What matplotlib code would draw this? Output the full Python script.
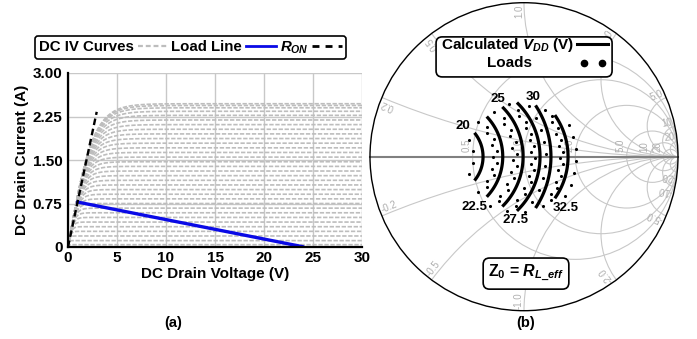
import numpy as np
import matplotlib
matplotlib.use("Agg")
import matplotlib.pyplot as plt
from matplotlib.patches import Circle, FancyBboxPatch
from matplotlib.lines import Line2D

plt.rcParams['font.family'] = ['Liberation Sans', 'DejaVu Sans']
plt.rcParams['font.weight'] = 'bold'
plt.rcParams['mathtext.fontset'] = 'custom'
plt.rcParams['mathtext.rm'] = 'Liberation Sans:bold'
plt.rcParams['mathtext.it'] = 'Liberation Sans:italic:bold'
plt.rcParams['mathtext.bf'] = 'Liberation Sans:bold'

# ---------------- (a) DC IV characteristics ----------------
sat_currents = [0.04, 0.11, 0.19, 0.27, 0.35, 0.43, 0.51, 0.59, 0.67, 0.75,
                0.83, 0.91, 0.99, 1.07, 1.15, 1.23, 1.31, 1.39, 1.47, 1.55,
                1.63, 1.71, 1.79, 1.87, 1.95, 2.03, 2.11, 2.19, 2.27, 2.34,
                2.40, 2.44, 2.47]
on_conductance = 0.95          # A/V, linear-region slope of the device model
load_line_v = [0.82, 24.1]
load_line_i = [0.78, 0.0]
ron_v = [0.0, 2.93]
ron_i = [0.0, 2.33]
x_ticks = [0, 5, 10, 15, 20, 25, 30]
y_ticks = [0, 0.75, 1.5, 2.25, 3.0]
y_ticklabels = ['0', '0.75', '1.50', '2.25', '3.00']

# ---------------- (b) Smith chart data ----------------
resistance_circles = [0.5, 1.0, 2.0, 5.0, 10.0, 20.0]
resistance_labels = ['0.5', '1.0', '2.0', '5.0', '10', '20']
reactance_arcs = [0.2, 0.5, 1.0, 2.0, 5.0, 10.0, 20.0]
reactance_labels = ['0.2', '0.5', '1.0', '2.0', '5.0', '10', '20']

vdd_levels = [20, 22.5, 25, 27.5, 30, 32.5]
vdd_arc_center = [-0.510, -0.516, -0.461, -0.383, -0.429, -0.182]
vdd_arc_radius = [0.244, 0.378, 0.455, 0.487, 0.604, 0.468]
vdd_arc_halfspan = [37, 42, 44, 45, 32.5, 34]
vdd_label_re = [-0.396, -0.325, -0.169, -0.058, 0.058, 0.273]
vdd_label_im = [0.199, -0.327, 0.375, -0.411, 0.388, -0.333]

load_re = [-0.357, -0.334, -0.334, -0.358,
           -0.299, -0.243, -0.211, -0.201, -0.211, -0.243, -0.299,
           -0.241, -0.197, -0.176, -0.176, -0.197, -0.241,
           -0.192, -0.131, -0.094, -0.075, -0.071, -0.084, -0.110, -0.158, -0.221,
           -0.132, -0.083, -0.055, -0.043, -0.048, -0.067, -0.104, -0.160,
           -0.099, -0.032, 0.010, 0.036, 0.047, 0.045, 0.032, 0.003, -0.045, -0.110,
           -0.041, 0.014, 0.048, 0.067, 0.071, 0.064, 0.043, 0.004, -0.053,
           0.030, 0.078, 0.110, 0.130, 0.140, 0.136, 0.122, 0.095, 0.054, 0.006,
           0.136, 0.181, 0.210, 0.226, 0.231, 0.223, 0.205, 0.173, 0.123,
           0.184, 0.221, 0.243, 0.254, 0.252, 0.239, 0.214, 0.173,
           0.292, 0.321, 0.335, 0.337, 0.326, 0.302, 0.266]
load_im = [0.108, 0.037, -0.041, -0.112,
           0.225, 0.154, 0.076, -0.002, -0.080, -0.158, -0.229,
           0.190, 0.115, 0.037, -0.041, -0.119, -0.194,
           0.290, 0.212, 0.134, 0.056, -0.021, -0.099, -0.177, -0.255, -0.320,
           0.251, 0.173, 0.095, 0.018, -0.060, -0.138, -0.216, -0.288,
           0.342, 0.264, 0.186, 0.108, 0.031, -0.047, -0.125, -0.203, -0.281, -0.353,
           0.303, 0.225, 0.147, 0.070, -0.008, -0.086, -0.164, -0.242, -0.317,
           0.329, 0.251, 0.173, 0.095, 0.018, -0.060, -0.138, -0.216, -0.294, -0.359,
           0.303, 0.225, 0.147, 0.069, -0.008, -0.086, -0.164, -0.242, -0.320,
           0.264, 0.186, 0.108, 0.031, -0.047, -0.125, -0.203, -0.281,
           0.206, 0.128, 0.050, -0.028, -0.106, -0.184, -0.255]

curve_gray = '#bdbdbd'
grid_gray = '#c8c8c8'
label_gray = '#b0b0b0'

fig = plt.figure(figsize=(6.97, 3.39), dpi=100)

# ================= (a) =================
ax1 = fig.add_axes([68 / 697, 1 - 247 / 339, 294 / 697, 174 / 339])
v = np.linspace(0, 30, 600)
for isat in sat_currents:
    ax1.plot(v, isat * np.tanh(on_conductance * v / isat), color=curve_gray,
             lw=1.2, dashes=(2.6, 1.0), zorder=2)
ax1.plot(load_line_v, load_line_i, color='#0a0ae6', lw=2.4, zorder=4,
         solid_capstyle='butt')
ax1.plot(ron_v, ron_i, color='black', lw=1.7, dashes=(2.8, 1.6), zorder=5)

ax1.set_xlim(0, 30)
ax1.set_ylim(0, 3)
ax1.set_xticks(x_ticks)
ax1.set_yticks(y_ticks)
ax1.set_yticklabels(y_ticklabels)
ax1.tick_params(length=0, labelsize=11)
ax1.tick_params(axis='y', pad=4)
ax1.tick_params(axis='x', pad=3)
ax1.grid(True, color=grid_gray, lw=1.0, zorder=0)
ax1.set_axisbelow(True)
for s in ['top', 'right']:
    ax1.spines[s].set_visible(False)
for s in ['left', 'bottom']:
    ax1.spines[s].set_linewidth(1.6)
    ax1.spines[s].set_zorder(6)
ax1.set_xlabel('DC Drain Voltage (V)', fontsize=11, fontweight='bold', labelpad=1)
ax1.set_ylabel('DC Drain Current (A)', fontsize=11, fontweight='bold', labelpad=3)

handles = [Line2D([], [], color=curve_gray, lw=1.6, dashes=(2.2, 1.3)),
           Line2D([], [], color='#0a0ae6', lw=2.0),
           Line2D([], [], color='black', lw=2.0, dashes=(2.5, 2.2))]
labels = ['DC IV Curves', 'Load Line', r'$R_{ON}$']
leg = ax1.legend(handles, labels, ncol=3, markerfirst=False, loc='center',
                 bbox_to_anchor=(190.5 / 697, 1 - 47.5 / 339),
                 bbox_transform=fig.transFigure, fancybox=True, framealpha=1,
                 edgecolor='black', handlelength=2.0, handletextpad=0.25,
                 columnspacing=0.25, borderpad=0.25, borderaxespad=0,
                 prop={'weight': 'bold', 'size': 10.8})
leg.get_frame().set_linewidth(1.2)

fig.text(173 / 697, 1 - 323 / 339, '(a)', ha='center', va='center',
         fontsize=10.5, fontweight='bold')

# ================= (b) =================
R_PX = 154.0
ax2 = fig.add_axes([(524 - 157) / 697, 1 - (156.7 + 157) / 339, 314 / 697, 314 / 339])
ax2.set_xlim(-157 / R_PX, 157 / R_PX)
ax2.set_ylim(-157 / R_PX, 157 / R_PX)
ax2.set_aspect('equal')
ax2.axis('off')

clip = Circle((0, 0), 1, transform=ax2.transData)

for r, lab in zip(resistance_circles, resistance_labels):
    c = Circle((r / (1 + r), 0), 1 / (1 + r), fill=False, ec=grid_gray, lw=0.8, zorder=1)
    ax2.add_patch(c)
    c.set_clip_path(clip)
    x0 = (r - 1) / (r + 1)
    ax2.text(x0 - 0.005, 0.03, lab, rotation=90, rotation_mode='anchor',
             ha='left', va='bottom', fontsize=7, fontweight='normal',
             color=label_gray, zorder=2)

for xv, lab in zip(reactance_arcs, reactance_labels):
    for sgn in (1, -1):
        c = Circle((1, sgn / xv), 1 / xv, fill=False, ec=grid_gray, lw=0.8, zorder=1)
        ax2.add_patch(c)
        c.set_clip_path(clip)
    phi = 180 - 2 * np.degrees(np.arctan(xv))
    px, py = np.cos(np.radians(phi)), np.sin(np.radians(phi))
    ax2.text(px * 0.99, py * 0.99, lab, rotation=phi, rotation_mode='anchor',
             ha='right', va='bottom', fontsize=7, fontweight='normal',
             color=label_gray, zorder=2)
    ax2.text(px * 0.99, -py * 0.99, '-' + lab, rotation=180 - phi,
             rotation_mode='anchor', ha='left', va='bottom', fontsize=7,
             fontweight='normal', color=label_gray, zorder=2)

ax2.plot([-1, 1], [0, 0], color='#808080', lw=1.5, zorder=3)
ax2.add_patch(Circle((0, 0), 1, fill=False, ec='black', lw=1.0, zorder=4))

for c0, rad, half in zip(vdd_arc_center, vdd_arc_radius, vdd_arc_halfspan):
    th = np.radians(np.linspace(-half, half, 80))
    ax2.plot(c0 + rad * np.cos(th), rad * np.sin(th), color='black', lw=2.3,
             zorder=6)
for lvl, lx, ly in zip(vdd_levels, vdd_label_re, vdd_label_im):
    ax2.text(lx, ly, f'{lvl:g}', ha='center', va='center', fontsize=9.5,
             fontweight='bold', zorder=7)

ax2.scatter(load_re, load_im, s=5, c='black', linewidths=0, zorder=7)

# legend panel of the Smith chart
ax2.add_patch(FancyBboxPatch((-0.571, 0.518), 1.143, 0.26,
                             boxstyle='round,pad=0,rounding_size=0.04',
                             fc='white', ec='black', lw=1.2, zorder=8))
ax2.text(-0.104, 0.727, r'Calculated $V_{DD}$ (V)', ha='center', va='center',
         fontsize=11, fontweight='bold', zorder=9)
ax2.plot([0.344, 0.545], [0.732, 0.732], color='black', lw=2.2, zorder=9)
ax2.text(-0.097, 0.606, 'Loads', ha='center', va='center', fontsize=11,
         fontweight='bold', zorder=9)
ax2.plot([0.39, 0.506], [0.608, 0.608], ls='none', marker='o', ms=4.5,
         color='black', zorder=9)

ax2.text(0.013, -0.759, r'Z$_0$ = $R_{L\_eff}$', ha='center', va='center',
         fontsize=11.5, fontweight='bold', zorder=9,
         bbox=dict(boxstyle='round,pad=0.3,rounding_size=0.4', fc='white',
                   ec='black', lw=1.2))

fig.text(526 / 697, 1 - 323 / 339, '(b)', ha='center', va='center',
         fontsize=10.5, fontweight='bold')

fig.savefig('out.png', dpi=100)
